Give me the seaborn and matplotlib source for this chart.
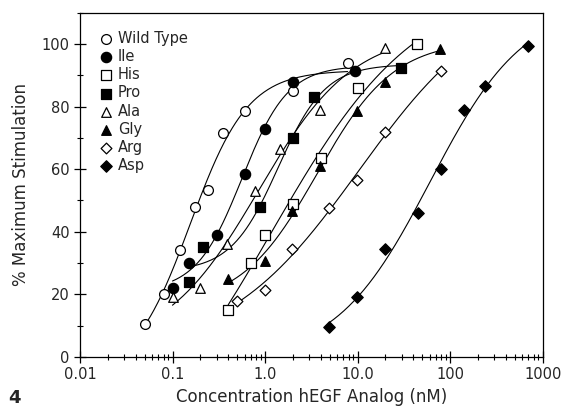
import numpy as np
import pandas as pd
import matplotlib
matplotlib.use('Agg')
import matplotlib.pyplot as plt
import seaborn as sns
from matplotlib.ticker import LogLocator, FixedLocator, FixedFormatter, MultipleLocator

# data (concentration in nM, % maximum stimulation)
wild_x = [0.05, 0.08, 0.12, 0.175, 0.24, 0.35, 0.6, 2.0, 7.8]
wild_y = [10.5, 20, 34, 48, 53.5, 71.5, 78.5, 85, 94]
ile_x = [0.1, 0.15, 0.3, 0.6, 1.0, 2.0, 9.3]
ile_y = [22, 30, 39, 58.5, 73, 88, 91.5]
his_x = [0.4, 0.7, 1.0, 2.0, 4.0, 10, 44]
his_y = [15, 30, 39, 49, 63.5, 86, 100]
pro_x = [0.15, 0.215, 0.88, 2.0, 3.4, 29.5]
pro_y = [24, 35, 48, 70, 83, 92.5]
ala_x = [0.1, 0.2, 0.39, 0.78, 1.45, 3.95, 19.6]
ala_y = [19, 22, 36, 53, 66.5, 79, 98.8]
gly_x = [0.4, 1.0, 1.95, 3.95, 9.8, 19.6, 78]
gly_y = [25, 30.5, 46.5, 61, 78.5, 88, 98.5]
arg_x = [0.5, 1.0, 1.95, 4.9, 9.8, 19.6, 80]
arg_y = [18, 21.5, 34.5, 47.5, 56.5, 72, 91.5]
asp_x = [4.9, 9.8, 19.9, 45, 80, 141, 238, 700]
asp_y = [9.5, 19, 34.5, 46, 60, 79, 86.5, 99.5]

names = ['Wild Type', 'Ile', 'His', 'Pro', 'Ala', 'Gly', 'Arg', 'Asp']
xs = [wild_x, ile_x, his_x, pro_x, ala_x, gly_x, arg_x, asp_x]
ys = [wild_y, ile_y, his_y, pro_y, ala_y, gly_y, arg_y, asp_y]
markers = ['o', 'o', 's', 's', '^', '^', 'D', 'D']
filled = [False, True, False, True, False, True, False, True]
sizes = [50, 55, 55, 55, 48, 48, 30, 34]


def logistic_fit(lx, y):
    # 4-parameter logistic in log concentration: grid over midpoint/slope,
    # bottom and top by linear least squares
    best = None
    for c in np.linspace(lx.min() - 1.5, lx.max() + 1.5, 160):
        for h in np.linspace(0.3, 4.0, 75):
            s = 1.0 / (1.0 + 10 ** ((c - lx) * h))
            A = np.column_stack([1 - s, s])
            coef, *_ = np.linalg.lstsq(A, y, rcond=None)
            err = np.sum((A @ coef - y) ** 2)
            if best is None or err < best[0]:
                best = (err, c, h, coef)
    return best[1:]


plt.rcParams['font.family'] = ['DejaVu Sans']
sns.set_style('ticks')
plt.rcParams['font.family'] = ['DejaVu Sans']

fig = plt.figure(figsize=(5.63, 4.13), dpi=100)
ax = fig.add_axes([0.142, 0.136, 0.822, 0.833])

for name, x, y, m, f, s in zip(names, xs, ys, markers, filled, sizes):
    df = pd.DataFrame({'conc': x, 'stim': y})
    lx = np.log10(df['conc'].values)
    c, h, (b, t) = logistic_fit(lx, df['stim'].values)
    grid = np.linspace(lx.min(), lx.max(), 200)
    sg = 1.0 / (1.0 + 10 ** ((c - grid) * h))
    curve = pd.DataFrame({'conc': 10 ** grid, 'stim': b * (1 - sg) + t * sg})
    sns.lineplot(data=curve, x='conc', y='stim', ax=ax, color='black',
                 linewidth=0.8, legend=False)
    sns.scatterplot(data=df, x='conc', y='stim', ax=ax, marker=m, s=s,
                    color='black' if f else 'white', edgecolor='black',
                    linewidth=0.9, label=name, zorder=3)

ax.set_xscale('log')
ax.set_xlim(0.01, 1000)
ax.set_ylim(0, 110)
ax.xaxis.set_major_locator(FixedLocator([0.01, 0.1, 1, 10, 100, 1000]))
ax.xaxis.set_major_formatter(FixedFormatter(['0.01', '0.1', '1.0', '10.0', '100', '1000']))
ax.xaxis.set_minor_locator(LogLocator(base=10, subs=np.arange(2, 10), numticks=20))
ax.yaxis.set_major_locator(FixedLocator([0, 20, 40, 60, 80, 100]))
ax.yaxis.set_minor_locator(MultipleLocator(10))
ax.tick_params(axis='both', which='major', direction='inout', length=8, width=0.9,
               labelsize=10.5, color='black')
ax.tick_params(axis='both', which='minor', direction='inout', length=5, width=0.8,
               color='black')
for sp in ax.spines.values():
    sp.set_linewidth(0.9)
    sp.set_color('black')

ax.set_xlabel('Concentration hEGF Analog (nM)', fontsize=12)
ax.set_ylabel('% Maximum Stimulation', fontsize=12, labelpad=8)

leg = ax.legend(loc='upper left', frameon=False, fontsize=10.5, handletextpad=0.3,
                labelspacing=0.22, borderaxespad=0.6, handlelength=1.0,
                bbox_to_anchor=(0.01, 0.99))

fig.text(0.015, 0.025, '4', fontsize=13, fontweight='bold')

fig.savefig('out.png', dpi=100)
